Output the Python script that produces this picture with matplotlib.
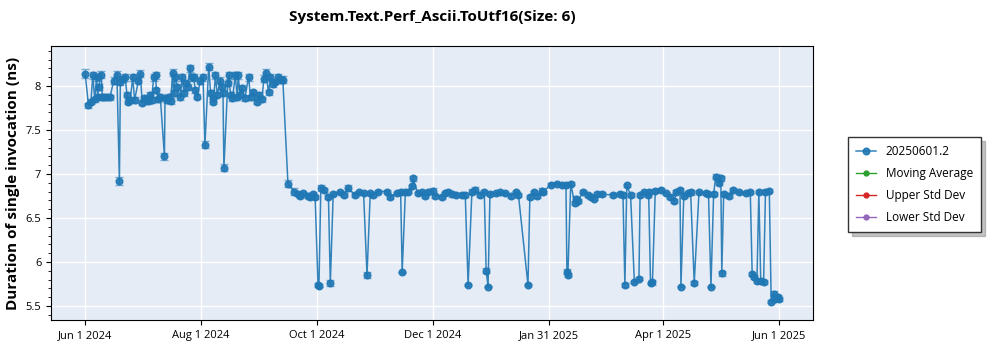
import pandas as pd, numpy as np, matplotlib.pyplot as plt
import matplotlib.dates as mdates
from matplotlib.ticker import MultipleLocator

# run dates as day offsets from the first run, values in ns
start = pd.Timestamp("2024-06-01")
days = [
    0, 1.7, 3, 4, 5, 6, 6.5, 7, 8.5, 9, 10, 11.5, 13, 15, 16.7, 18, 18.5, 20, 21, 22,
    22.6, 23.7, 25, 26, 28, 29, 30, 31, 32, 33, 34, 35, 36, 37, 37.5, 38.5, 39.5, 41.7, 42, 43,
    44, 45, 46, 46.5, 47.5, 48.5, 50, 51, 52, 53, 54, 55, 56, 57, 58, 59, 60.5, 62, 63, 65,
    66, 67, 67.5, 68.5, 69.5, 71, 72, 72.5, 73, 75, 75.5, 76.5, 77.5, 79, 80, 80.5, 81.5, 82.5, 84, 86,
    87, 88.5, 90.4, 91.5, 93, 94, 95, 96.5, 97.5, 99, 100, 101.5, 103, 104, 106.7, 110, 112, 113, 114.5, 117,
    118.5, 120, 121, 122.5, 123, 124, 125.5, 128, 129, 130.5, 134, 136, 138.3, 142, 144, 146.5, 148.3, 150, 151.7, 154,
    159, 160.5, 164, 166, 166.8, 168.5, 170, 172, 172.5, 175, 177.5, 179, 180.5, 183, 184, 188, 189.5, 191, 193, 195,
    198.5, 200, 201.5, 203.5, 205, 208, 210, 211, 212, 213, 216, 218.5, 221, 224, 226.5, 228, 233, 234, 236, 238,
    240.5, 241, 245, 248.5, 251, 253, 253.5, 254, 255.5, 257.5, 258.5, 259.5, 262, 264.5, 266, 267.5, 269.5, 272, 278, 281.5,
    283, 284, 285, 287, 289, 291.4, 292, 294, 296, 296.5, 297.5, 298.5, 300, 303, 305.5, 308, 310, 311, 313, 313.5,
    315, 317, 318.6, 320.5, 323, 326.5, 328, 329.3, 330.7, 331.8, 333.5, 334.5, 335, 336, 338.6, 341, 344, 347.5, 350, 351,
    352, 353.5, 354.5, 355.5, 357, 358, 360, 361, 362.5, 363, 364.5, 365,
]
values = [
    8.14, 7.78, 7.82, 8.12, 7.85, 8.10, 7.88, 7.99, 8.13, 7.87, 7.87, 7.88, 7.87, 8.06, 8.13, 6.92, 8.04, 8.08, 8.10, 7.90,
    7.82, 7.84, 8.10, 7.84, 8.06, 8.14, 7.81, 7.86, 7.85, 7.83, 7.90, 7.84, 8.10, 8.12, 7.95, 7.85, 7.88, 7.20, 7.86, 7.84,
    7.88, 7.83, 8.15, 7.92, 8.10, 7.99, 7.87, 8.10, 7.92, 8.03, 7.99, 8.20, 8.10, 8.10, 7.95, 7.88, 8.06, 8.10, 7.33, 8.22,
    7.92, 7.86, 7.82, 8.12, 7.90, 8.06, 7.99, 7.92, 7.07, 8.03, 8.12, 7.90, 7.86, 8.12, 7.87, 8.12, 7.90, 7.98, 7.86, 8.10,
    7.87, 7.93, 7.82, 7.90, 7.85, 8.08, 8.15, 7.93, 8.10, 8.02, 8.05, 8.10, 8.07, 8.07, 6.89, 6.80, 6.77, 6.75, 6.78, 6.75,
    6.74, 6.77, 6.74, 5.74, 5.73, 6.84, 6.82, 6.74, 5.76, 6.77, 6.79, 6.76, 6.84, 6.76, 6.79, 6.78, 5.85, 6.78, 6.76, 6.80,
    6.80, 6.74, 6.78, 6.80, 5.88, 6.80, 6.80, 6.86, 6.95, 6.78, 6.79, 6.75, 6.80, 6.81, 6.75, 6.74, 6.78, 6.80, 6.77, 6.76,
    6.76, 6.76, 5.74, 6.80, 6.82, 6.76, 6.80, 5.90, 5.72, 6.77, 6.78, 6.79, 6.78, 6.75, 6.79, 6.76, 5.74, 6.74, 6.79, 6.75,
    6.81, 6.79, 6.88, 6.89, 6.88, 6.88, 5.89, 5.85, 6.89, 6.67, 6.72, 6.69, 6.80, 6.76, 6.74, 6.72, 6.77, 6.77, 6.76, 6.77,
    6.76, 5.74, 6.87, 6.76, 5.77, 5.81, 6.76, 6.79, 6.76, 6.80, 5.76, 5.77, 6.81, 6.82, 6.78, 6.74, 6.69, 6.80, 6.82, 5.72,
    6.75, 6.78, 6.79, 5.76, 6.79, 6.78, 6.77, 5.72, 6.77, 6.97, 6.90, 6.95, 5.87, 6.77, 6.75, 6.82, 6.79, 6.78, 6.79, 5.86,
    5.83, 5.78, 6.80, 5.78, 5.77, 6.80, 6.81, 5.55, 5.64, 5.58, 5.60, 5.58,
]
errs = [
    0.05, 0.03, 0.03, 0.04, 0.03, 0.04, 0.03, 0.03, 0.04, 0.03, 0.03, 0.03, 0.03, 0.04, 0.04, 0.04, 0.03, 0.03, 0.04, 0.03,
    0.03, 0.03, 0.04, 0.03, 0.03, 0.04, 0.03, 0.03, 0.03, 0.03, 0.03, 0.03, 0.04, 0.04, 0.03, 0.03, 0.03, 0.04, 0.03, 0.03,
    0.03, 0.03, 0.04, 0.03, 0.04, 0.03, 0.03, 0.04, 0.03, 0.03, 0.03, 0.04, 0.04, 0.04, 0.03, 0.03, 0.04, 0.04, 0.04, 0.04,
    0.03, 0.03, 0.03, 0.04, 0.03, 0.04, 0.03, 0.03, 0.04, 0.03, 0.04, 0.03, 0.03, 0.04, 0.03, 0.04, 0.03, 0.03, 0.03, 0.04,
    0.03, 0.03, 0.03, 0.03, 0.03, 0.04, 0.04, 0.03, 0.04, 0.03, 0.03, 0.04, 0.04, 0.04, 0.04, 0.04, 0.02, 0.02, 0.02, 0.02,
    0.02, 0.02, 0.02, 0.02, 0.02, 0.03, 0.02, 0.02, 0.03, 0.02, 0.02, 0.02, 0.03, 0.02, 0.02, 0.02, 0.03, 0.02, 0.02, 0.02,
    0.02, 0.02, 0.02, 0.02, 0.01, 0.02, 0.02, 0.02, 0.03, 0.02, 0.02, 0.02, 0.02, 0.03, 0.02, 0.02, 0.02, 0.02, 0.03, 0.02,
    0.02, 0.02, 0.01, 0.03, 0.03, 0.02, 0.02, 0.03, 0.01, 0.02, 0.02, 0.02, 0.02, 0.02, 0.02, 0.02, 0.01, 0.02, 0.02, 0.02,
    0.03, 0.02, 0.02, 0.02, 0.02, 0.02, 0.03, 0.02, 0.02, 0.02, 0.03, 0.02, 0.02, 0.02, 0.02, 0.02, 0.02, 0.02, 0.02, 0.02,
    0.02, 0.02, 0.02, 0.02, 0.01, 0.02, 0.02, 0.02, 0.02, 0.02, 0.01, 0.03, 0.02, 0.02, 0.02, 0.02, 0.02, 0.02, 0.02, 0.01,
    0.02, 0.02, 0.03, 0.02, 0.02, 0.02, 0.02, 0.01, 0.02, 0.03, 0.02, 0.03, 0.03, 0.02, 0.02, 0.02, 0.02, 0.02, 0.02, 0.02,
    0.02, 0.02, 0.02, 0.02, 0.02, 0.02, 0.02, 0.02, 0.03, 0.02, 0.02, 0.02,
]
tick_dates = ["2024-06-01", "2024-08-01", "2024-10-01", "2024-12-01", "2025-01-31", "2025-04-01", "2025-06-01"]
series_names = ["20250601.2", "Moving Average", "Upper Std Dev", "Lower Std Dev"]
series_colors = ["#1f77b4", "#2ca02c", "#d62728", "#9467bd"]

plt.rcParams["font.family"] = ["Open Sans", "DejaVu Sans"]

dates = start + pd.to_timedelta(days, unit="D")

fig = plt.figure(figsize=(10, 3.5), dpi=100)
ax = fig.add_axes([0.051, 0.0857, 0.762, 0.783])
ax.set_facecolor("#e5ecf6")
ax.grid(True, color="white", linewidth=1)
ax.set_axisbelow(True)

# main series with error bars
ax.errorbar(dates, values, yerr=errs, fmt="none", ecolor=series_colors[0],
            alpha=0.55, capsize=3, elinewidth=1, capthick=1)
ax.plot(dates, values, color=series_colors[0], marker="o", markersize=4.8,
        linewidth=1.1, alpha=0.9, label=series_names[0])
# the other series only appear in the legend
for name, col in zip(series_names[1:], series_colors[1:]):
    ax.plot([], [], color=col, marker="o", markersize=3.5, linewidth=1, label=name)

ax.set_xlim(start - pd.Timedelta(days=18), start + pd.Timedelta(days=383))
ax.set_ylim(5.34, 8.455)
ax.set_xticks(pd.to_datetime(tick_dates))
ax.xaxis.set_major_formatter(mdates.DateFormatter("%b %-d %Y"))
ax.yaxis.set_major_locator(MultipleLocator(0.5))
ax.yaxis.set_minor_locator(MultipleLocator(0.1))
ax.yaxis.set_major_formatter(plt.FuncFormatter(lambda v, p: f"{v:g}"))
ax.tick_params(labelsize=8)
ax.tick_params(axis="y", which="minor", length=2)
for s in ax.spines.values():
    s.set_color("black")

ax.set_title("System.Text.Perf_Ascii.ToUtf16(Size: 6)", fontsize=11,
             fontweight="bold", pad=18)
ax.set_ylabel("Duration of single invocation (ns)", fontsize=11, fontweight="bold")

leg = fig.legend(loc="upper left", bbox_to_anchor=(0.848, 0.609), borderaxespad=0,
                 fontsize=8.5, fancybox=False,
                 shadow={"ox": 3, "oy": -3, "color": "#888888"},
                 framealpha=1, edgecolor="#333333",
                 handlelength=1.7, borderpad=0.7, labelspacing=0.75)

fig.savefig("out.png", dpi=100)
